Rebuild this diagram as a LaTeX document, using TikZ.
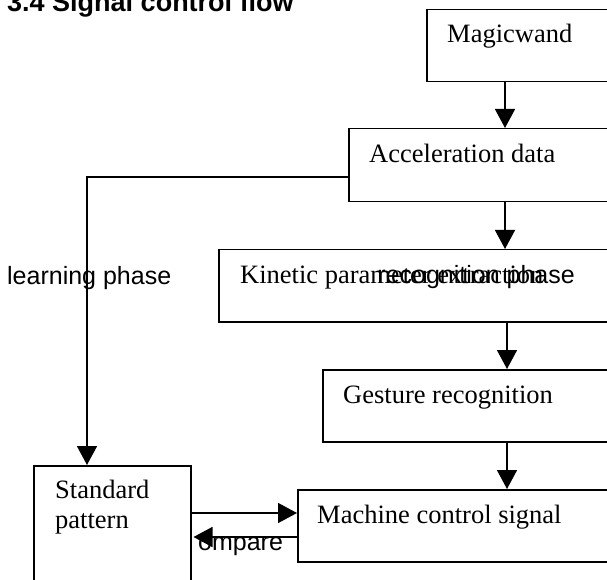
\documentclass[tikz,border=0pt]{standalone}
\usepackage{fontspec}
\setmainfont{Liberation Serif}
\newfontfamily\arialf{Liberation Sans}
\usetikzlibrary{arrows.meta}
\begin{document}
\begin{tikzpicture}[x=1pt,y=1pt,
  box/.style={draw, line width=1.5pt, fill=white, rectangle, anchor=north west, inner sep=0pt},
  serif/.style={anchor=base west, inner sep=0pt, font=\fontsize{26.5}{31}\selectfont},
  sans/.style={anchor=base west, inner sep=0pt, font=\arialf\fontsize{25}{29}\selectfont},
  arr/.style={line width=1.5pt, -{Triangle[width=20pt,length=19pt]}},
  ln/.style={line width=1.5pt}]
\useasboundingbox (0,0) rectangle (607,579);
\clip (0,0) rectangle (607,579);
% title
\node[anchor=base west, inner sep=0pt, font=\arialf\bfseries\fontsize{27}{31}\selectfont] (title) at (7,567) {3.4 Signal control flow};
% boxes
\node[box, minimum width=200pt, minimum height=72pt] (magic) at (426,570) {};
\node[box, minimum width=280pt, minimum height=73pt] (accel) at (348,451) {};
\node[box, minimum width=410pt, minimum height=72pt] (kin) at (218,330) {};
\node[box, minimum width=300pt, minimum height=72pt] (gest) at (322,210) {};
\node[box, minimum width=330pt, minimum height=72pt] (mach) at (297,90) {};
\node[box, minimum width=157pt, minimum height=140pt] (std) at (33,114) {};
% texts
\node[serif] (tmagic) at (447,536) {Magicwand};
\node[serif] (taccel) at (369,416) {Acceleration data};
\node[serif] (tkin) at (240,296) {Kinetic parameter extraction};
\node[sans, anchor=base east] (trec) at (575,296) {recognition phase};
\node[sans] (tlearn) at (7,295) {learning phase};
\node[serif] (tgest) at (343,176) {Gesture recognition};
\node[serif] (tmach) at (317,56) {Machine control signal};
\node[serif, align=left, font=\fontsize{26.5}{30}\selectfont] (tstd) at (55,81) {Standard};
\node[serif] (tstd2) at (55,51) {pattern};
\node[sans] (tcmp) at (198,29) {ompare};
% connectors
\coordinate (x1) at (505,0);
\coordinate (x2) at (505,0);
\coordinate (x3) at (507,0);
\coordinate (x4) at (507,0);
\coordinate (xs) at (87,0);
\coordinate (ya) at (0,66);
\coordinate (yb) at (0,42);
\coordinate (yl) at (0,402);
\draw[arr] (magic.south -| x1) -- (accel.north -| x1);
\draw[arr] (accel.south -| x2) -- (kin.north -| x2);
\draw[arr] (kin.south -| x3) -- (gest.north -| x3);
\draw[arr] (gest.south -| x4) -- (mach.north -| x4);
\draw[arr] (accel.west |- yl) -| (std.north -| xs);
\draw[arr] (std.east |- ya) -- (mach.west |- ya);
\draw[arr] (mach.west |- yb) -- ([xshift=2pt]std.east |- yb);
\end{tikzpicture}
\end{document}
